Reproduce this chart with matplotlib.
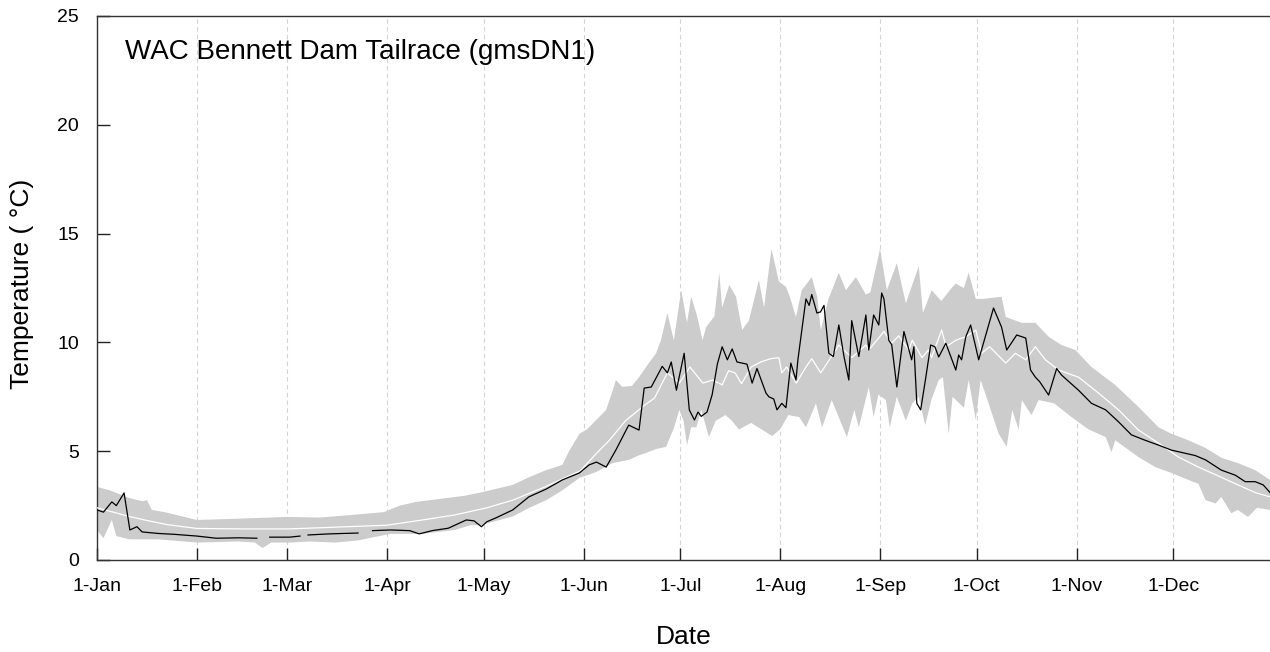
import numpy as np
import matplotlib
matplotlib.use("Agg")
import matplotlib.pyplot as plt

plt.rcParams['font.family'] = ['Liberation Sans', 'DejaVu Sans']

# month tick positions (day of year, non-leap) and labels
month_days = [1, 32, 60, 91, 121, 152, 182, 213, 244, 274, 305, 335]
month_labels = ['1-Jan', '1-Feb', '1-Mar', '1-Apr', '1-May', '1-Jun',
                '1-Jul', '1-Aug', '1-Sep', '1-Oct', '1-Nov', '1-Dec']

# upper edge of the historical range
upper_days = [1, 5, 11, 15, 16.5, 18, 22, 32, 45, 60, 70, 80, 90, 95, 100, 107, 115, 120,
              130, 135, 140.4, 145.4, 147.5, 150.7, 153, 159, 161.5, 162, 164, 167, 169.2,
              172, 174.5, 176, 178, 180, 182.3, 184.1, 185.4, 187.3, 188.9, 190, 192.6,
              194.1, 195, 197.2, 199.3, 201.2, 203.3, 206.4, 208, 210.3, 212.6, 214.8, 216,
              217.9, 219.7, 222.8, 224.5, 225.6, 228, 231.2, 233.4, 236.5, 239.6, 241, 244,
              246.1, 249.2, 252, 256, 257.3, 260, 263, 266.2, 267.5, 270, 271.5, 273.7, 276,
              281.7, 283, 287.9, 292.2, 296.3, 300.3, 304.6, 309.6, 317, 324.2, 330.4, 334.4,
              339.7, 345, 349.9, 355.1, 360.4, 365]
upper_vals = [3.36, 3.2, 2.85, 2.7, 2.75, 2.3, 2.2, 1.84, 1.9, 1.98, 1.95, 2.07, 2.2, 2.5, 2.67,
              2.8, 2.95, 3.1, 3.45, 3.8, 4.13, 4.37, 5.0, 5.8, 6.0, 6.9, 8.0, 8.27, 7.96, 8.0,
              8.4, 9.0, 9.5, 10.1, 11.35, 10.1, 12.4, 10.9, 12.1, 11.17, 10.1, 10.7, 11.2,
              13.2, 11.6, 12.64, 12.1, 10.57, 11.0, 12.86, 11.6, 14.3, 12.8, 12.55, 12.1,
              11.17, 12.4, 13.0, 12.1, 10.57, 12.0, 13.2, 12.4, 13.0, 12.2, 12.3, 14.3,
              12.4, 13.64, 11.8, 13.5, 11.35, 12.4, 11.9, 12.5, 12.7, 12.5, 13.2, 12.0, 12.0,
              12.1, 11.17, 10.9, 10.9, 10.26, 9.88, 9.65, 8.87, 8.04, 7.03, 6.1, 5.8,
              5.5, 5.15, 4.7, 4.45, 4.13, 3.68]

# lower edge of the historical range
lower_days = [1, 3, 5.6, 7, 11, 20, 32, 45, 50, 52.4, 55, 61, 67, 75, 82, 92, 102, 112, 117,
              120, 130, 135.2, 140.4, 145.4, 150.7, 156, 161, 166, 169, 171, 174.5, 177.6,
              180.1, 181.7, 183, 184.1, 185.4, 187, 188.5, 190.9, 193, 196, 198, 200.2, 204,
              210.5, 213, 215.5, 218.9, 221, 224.1, 226, 229, 233.7, 236, 237.4, 240.5, 242,
              243.5, 245.8, 247, 249.2, 252, 254, 256, 258, 260, 262.2, 263.5, 265.3, 266.5,
              270, 271.5, 273.7, 275.2, 277, 280.8, 283.3, 285, 287, 288, 291, 293.2, 298,
              303.4, 308.7, 314, 315.8, 317, 324.2, 329.4, 334.4, 339.7, 342.8, 345, 348.1,
              349.9, 353, 355, 358.2, 361, 365]
lower_vals = [1.38, 1.0, 1.84, 1.1, 0.95, 0.95, 0.8, 0.85, 0.8, 0.55, 0.8, 0.8, 0.85, 0.8, 0.9,
              1.2, 1.2, 1.38, 1.6, 1.6, 2.0, 2.4, 2.75, 3.2, 3.77, 4.05, 4.45, 4.6, 4.8, 4.9,
              5.1, 5.2, 6.1, 6.9, 6.4, 5.28, 6.1, 6.1, 6.9, 5.65, 6.4, 6.66, 6.4, 6.0, 6.3,
              5.7, 6.0, 6.66, 6.57, 6.1, 7.2, 6.1, 7.35, 5.65, 6.9, 6.1, 7.95, 6.57, 7.6,
              7.35, 6.1, 7.5, 6.4, 7.2, 7.5, 6.2, 7.4, 8.27, 8.4, 5.8, 7.5, 7.0, 8.27, 6.43,
              8.27, 7.5, 5.8, 5.2, 6.9, 6.0, 7.35, 6.66, 7.35, 7.2, 6.57, 6.0, 5.65, 4.96,
              5.5, 4.73, 4.27, 4.0, 3.68, 3.5, 2.75, 2.6, 2.9, 2.15, 2.3, 1.98, 2.4, 2.3]

# daily mean of the historical record (white line)
mean_days = [1, 6, 11, 17, 23, 32, 45, 61, 91, 102, 112, 122, 130, 140, 151, 156, 160, 165,
             171, 174, 178, 181.7, 185, 189, 192, 195, 197, 199, 201, 204, 207, 210, 212.6,
             213.5, 215, 218, 221, 222.8, 225.6, 228.7, 231.2, 235.2, 239.6, 240.5, 245.2,
             247.6, 249.8, 252.9, 254, 257, 259, 260, 263.1, 264.5, 267.5, 270.6, 273.7,
             275.5, 278, 283, 286, 289.2, 292.2, 295.3, 299.4, 305.6, 311.8, 318, 324.2,
             330.4, 336.6, 342.8, 349.9, 355.1, 360.4, 365]
mean_vals = [2.4, 2.2, 2.0, 1.8, 1.62, 1.45, 1.43, 1.43, 1.6, 1.84, 2.07, 2.4, 2.75, 3.36, 4.1,
             4.9, 5.5, 6.4, 7.12, 7.44, 8.6, 8.13, 8.87, 8.13, 8.27, 8.05, 8.7, 8.6, 8.1,
             8.87, 9.1, 9.25, 9.3, 8.6, 8.87, 8.13, 8.87, 9.25, 8.6, 9.3, 9.88, 9.3, 9.88,
             9.65, 10.5, 9.96, 10.3, 9.65, 10.1, 9.3, 9.65, 9.3, 10.57, 9.8, 10.1, 10.26,
             10.57, 9.5, 9.8, 9.05, 9.5, 9.2, 9.8, 9.2, 8.73, 8.4, 7.67, 6.9, 5.97, 5.37,
             4.73, 4.27, 3.8, 3.45, 3.1, 2.9]

# observed daily temperature (black line), NaN = missing data
obs_days = [1, 3, 5.6, 7, 9.4, 11.2, 13.4, 15, 20, 25, 32, 38, 45, 50.6, 52, 54.6, 60.8, 64,
            65.5, 66.5, 73, 82, 84.5, 86.5, 92, 98, 101, 105, 110, 115.6, 118, 120.3, 122,
            125, 130, 135, 140.4, 145.4, 150.7, 153.7, 156, 159, 162, 166, 169.2, 170.8, 173,
            176.4, 178, 179.2, 180.8, 183.2, 184.8, 186.4, 187.5, 188.5, 190.3, 191.9, 193.5,
            195, 196.6, 198.1, 199.6, 202.7, 204.3, 205.8, 208.6, 209.5, 211, 212, 213.5,
            214.8, 216.3, 217.9, 218.5, 221, 222, 222.8, 224.4, 225.5, 226.6, 228.1, 229.5,
            231.2, 232.8, 234.3, 235.2, 237.4, 239.6, 240.5, 242, 243.6, 244.5, 245.2, 246.7,
            247.6, 249.2, 251.4, 252.5, 253.8, 254.5, 255.4, 256.6, 258.2, 259.7, 261, 262.2,
            264.4, 267.5, 268.4, 269.3, 270.6, 272.1, 274.6, 279.2, 281.7, 283.3, 286.4,
            289.2, 290.7, 292.2, 293.5, 296.3, 298.8, 300.3, 305.6, 309.6, 314, 318, 322,
            326.3, 330.4, 334.4, 341.8, 345, 349.9, 354.2, 357.3, 360.4, 362.9, 365]
obs_vals = [2.3, 2.2, 2.67, 2.5, 3.08, 1.38, 1.53, 1.29, 1.22, 1.18, 1.1, 1.0, 1.02, 1.0,
            np.nan, 1.05, 1.05, 1.1, np.nan, 1.15, 1.2, 1.24, np.nan, 1.35, 1.38, 1.35, 1.2,
            1.35, 1.46, 1.84, 1.8, 1.53, 1.76, 1.95, 2.3, 2.9, 3.26, 3.68, 4.0, 4.37, 4.5,
            4.27, 5.05, 6.2, 5.97, 7.9, 7.95, 8.9, 8.6, 9.1, 7.8, 9.5, 6.9, 6.43, 6.8, 6.6,
            6.8, 7.6, 9.0, 9.8, 9.2, 9.7, 9.1, 9.0, 8.13, 8.8, 7.67, 7.5, 7.4, 6.9, 7.2,
            7.0, 9.05, 8.27, 9.2, 12.0, 11.7, 12.2, 11.35, 11.4, 11.7, 9.5, 9.35, 10.8, 9.35,
            8.27, 11.0, 9.35, 11.26, 9.65, 11.26, 10.8, 12.27, 12.0, 10.1, 9.9, 7.95, 10.5,
            9.9, 9.2, 9.8, 7.2, 6.9, 8.4, 9.88, 9.8, 9.33, 9.96, 8.73, 9.42, 9.2, 10.26,
            10.8, 9.2, 11.58, 10.7, 9.65, 10.34, 10.2, 8.73, 8.4, 8.2, 7.58, 8.8, 8.5, 7.8,
            7.2, 6.9, 6.35, 5.75, 5.5, 5.28, 5.05, 4.8, 4.6, 4.13, 3.9, 3.6, 3.6, 3.45, 3.1]

fig = plt.figure(figsize=(12.7, 6.52), dpi=100)
ax = fig.add_axes([97 / 1270, 92 / 652, 1 - 97 / 1270, 544 / 652])

# grey envelope (min-max of record)
poly_x = np.r_[upper_days, lower_days[::-1]]
poly_y = np.r_[upper_vals, lower_vals[::-1]]
ax.fill(poly_x, poly_y, color='#cccccc', lw=0, zorder=2)

ax.plot(mean_days, mean_vals, color='white', lw=0.9, zorder=3)
ax.plot(obs_days, obs_vals, color='black', lw=0.9, zorder=4)

# dashed monthly gridlines
for d in month_days[1:]:
    ax.axvline(d, color='#d4d4d4', lw=0.8, ls=(0, (4, 3)), zorder=1)

ax.set_xlim(1, 365)
ax.set_ylim(0, 25)
ax.set_xticks(month_days)
ax.set_xticklabels(month_labels)
ax.set_yticks([0, 5, 10, 15, 20, 25])
ax.tick_params(direction='in', length=9, width=1, labelsize=14, colors='#222222',
               labelcolor='black')
ax.tick_params(axis='x', pad=13)
ax.tick_params(axis='y', pad=13)

for s in ['left', 'bottom', 'top']:
    ax.spines[s].set_color('#333333')
    ax.spines[s].set_linewidth(1)
ax.spines['right'].set_visible(False)

ax.text(0.024, 0.934, 'WAC Bennett Dam Tailrace (gmsDN1)', transform=ax.transAxes,
        fontsize=20, ha='left', va='center')

fig.text(684 / 1270, 1 - 637 / 652, 'Date', fontsize=19, ha='center', va='center')
fig.text(22 / 1270, 1 - 284 / 652, 'Temperature ( °C)', fontsize=19, rotation=90,
         ha='center', va='center')

fig.savefig('out.png', dpi=100)
